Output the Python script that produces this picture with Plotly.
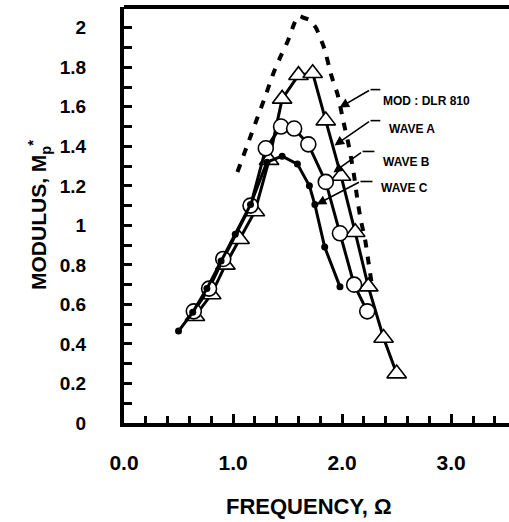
import plotly.graph_objects as go

# ---- data ----
mod_x = [1.04, 1.14, 1.22, 1.30, 1.37, 1.44, 1.50, 1.56, 1.60, 1.65, 1.70, 1.76, 1.84, 1.90, 1.96, 2.01, 2.07, 2.11, 2.14, 2.17, 2.21, 2.24, 2.27]
mod_y = [1.27, 1.42, 1.54, 1.66, 1.77, 1.86, 1.93, 2.02, 2.06, 2.05, 2.04, 2.00, 1.89, 1.76, 1.66, 1.53, 1.38, 1.25, 1.13, 1.03, 0.93, 0.82, 0.71]

wave_a_x = [0.65, 0.80, 0.93, 1.06, 1.20, 1.33, 1.45, 1.60, 1.73, 1.85, 1.99, 2.12, 2.24, 2.38, 2.50]
wave_a_y = [0.54, 0.65, 0.80, 0.93, 1.07, 1.33, 1.64, 1.76, 1.77, 1.53, 1.25, 0.965, 0.69, 0.43, 0.25]

wave_b_x = [0.64, 0.78, 0.91, 1.16, 1.30, 1.44, 1.56, 1.69, 1.85, 1.98, 2.11, 2.23]
wave_b_y = [0.565, 0.68, 0.83, 1.10, 1.39, 1.50, 1.49, 1.41, 1.22, 0.96, 0.70, 0.565]

wave_c_x = [0.50, 0.63, 0.76, 0.89, 1.02, 1.16, 1.31, 1.45, 1.59, 1.70, 1.75, 1.84, 1.98]
wave_c_y = [0.465, 0.56, 0.68, 0.82, 0.955, 1.105, 1.32, 1.35, 1.31, 1.20, 1.105, 0.89, 0.69]

x_tick_vals = [0, 1, 2, 3]
x_tick_text = ["0.0", "1.0", "2.0", "3.0"]
y_tick_vals = [0, 0.2, 0.4, 0.6, 0.8, 1.0, 1.2, 1.4, 1.6, 1.8, 2.0]
y_tick_text = ["0", "0.2", "0.4", "0.6", "0.8", "1", "1.2", "1.4", "1.6", "1.8", "2"]

labels = ["MOD : DLR 810", "WAVE A", "WAVE B", "WAVE C"]
label_x = [2.36, 2.415, 2.36, 2.342]
label_y = [1.631, 1.49, 1.323, 1.187]
tip_x = [1.976, 1.93, 1.92, 1.766]
tip_y = [1.596, 1.404, 1.268, 1.106]
tail_x = [2.26, 2.26, 2.187, 2.168]
tail_y = [1.687, 1.53, 1.374, 1.222]
tail_end_x = [2.35, 2.35, 2.296, 2.278]

FONT = "Liberation Sans"

fig = go.Figure()
fig.add_trace(go.Scatter(x=mod_x, y=mod_y, mode="lines",
                         line=dict(color="black", width=4, dash="8px,9px", shape="spline", smoothing=0.5),
                         name="MOD : DLR 810"))
fig.add_trace(go.Scatter(x=wave_a_x, y=wave_a_y, mode="lines+markers",
                         line=dict(color="black", width=3),
                         marker=dict(symbol="triangle-up", size=17, color="white",
                                     line=dict(color="black", width=1.6)),
                         name="WAVE A"))
fig.add_trace(go.Scatter(x=wave_b_x, y=wave_b_y, mode="lines+markers",
                         line=dict(color="black", width=3),
                         marker=dict(symbol="circle", size=15, color="white",
                                     line=dict(color="black", width=1.6)),
                         name="WAVE B"))
fig.add_trace(go.Scatter(x=wave_c_x, y=wave_c_y, mode="lines+markers",
                         line=dict(color="black", width=3),
                         marker=dict(symbol="circle", size=7, color="black"),
                         name="WAVE C"))

annotations = []
shapes = []
for i, t in enumerate(labels):
    annotations.append(dict(x=label_x[i], y=label_y[i], xref="x", yref="y", text=t,
                            showarrow=False, xanchor="left", yanchor="middle",
                            font=dict(family=FONT, size=12, color="black", weight="bold")))
    annotations.append(dict(x=tip_x[i], y=tip_y[i], xref="x", yref="y",
                            ax=tail_x[i], ay=tail_y[i], axref="x", ayref="y",
                            text="", showarrow=True, arrowhead=2, arrowsize=1.2,
                            arrowwidth=1.6, arrowcolor="black"))
    shapes.append(dict(type="line", xref="x", yref="y", x0=tail_x[i], x1=tail_end_x[i],
                       y0=tail_y[i], y1=tail_y[i], line=dict(color="black", width=1.6)))

# top frame line
shapes.append(dict(type="line", xref="paper", yref="paper", x0=0, x1=1, y0=1, y1=1,
                   line=dict(color="black", width=4)))

# x axis title
annotations.append(dict(x=0.48, y=-0.2, xref="paper", yref="paper", text="FREQUENCY, Ω",
                        showarrow=False, xanchor="center", yanchor="middle",
                        font=dict(family=FONT, size=22, color="black", weight="bold")))

fig.update_layout(
    width=509, height=522,
    margin=dict(l=124, r=0, t=7, b=99),
    paper_bgcolor="white", plot_bgcolor="white",
    showlegend=False,
    annotations=annotations,
    shapes=shapes,
    xaxis=dict(range=[0, 3.53], showgrid=False, zeroline=False,
               showline=True, linecolor="black", linewidth=4,
               ticks="inside", ticklen=9, tickwidth=3, tickcolor="black",
               tickvals=x_tick_vals, ticktext=x_tick_text,
               minor=dict(dtick=0.2, tick0=0, ticks="inside", ticklen=7, tickwidth=3, tickcolor="black"),
               tickfont=dict(family=FONT, size=21, color="black", weight="bold"),
               ticklabelstandoff=18),
    yaxis=dict(range=[0, 2.105], showgrid=False, zeroline=False,
               showline=True, linecolor="black", linewidth=4,
               ticks="inside", ticklen=8, tickwidth=3, tickcolor="black",
               tickvals=y_tick_vals, ticktext=y_tick_text,
               minor=dict(dtick=0.1, tick0=0, ticks="inside", ticklen=8, tickwidth=3, tickcolor="black"),
               tickfont=dict(family=FONT, size=19, color="black", weight="bold"),
               ticklabelstandoff=30,
               title=dict(text="MODULUS, M<sub>p</sub><sup>*</sup>",
                          font=dict(family=FONT, size=21, color="black", weight="bold"),
                          standoff=8)),
)

fig.write_html("out.html")
